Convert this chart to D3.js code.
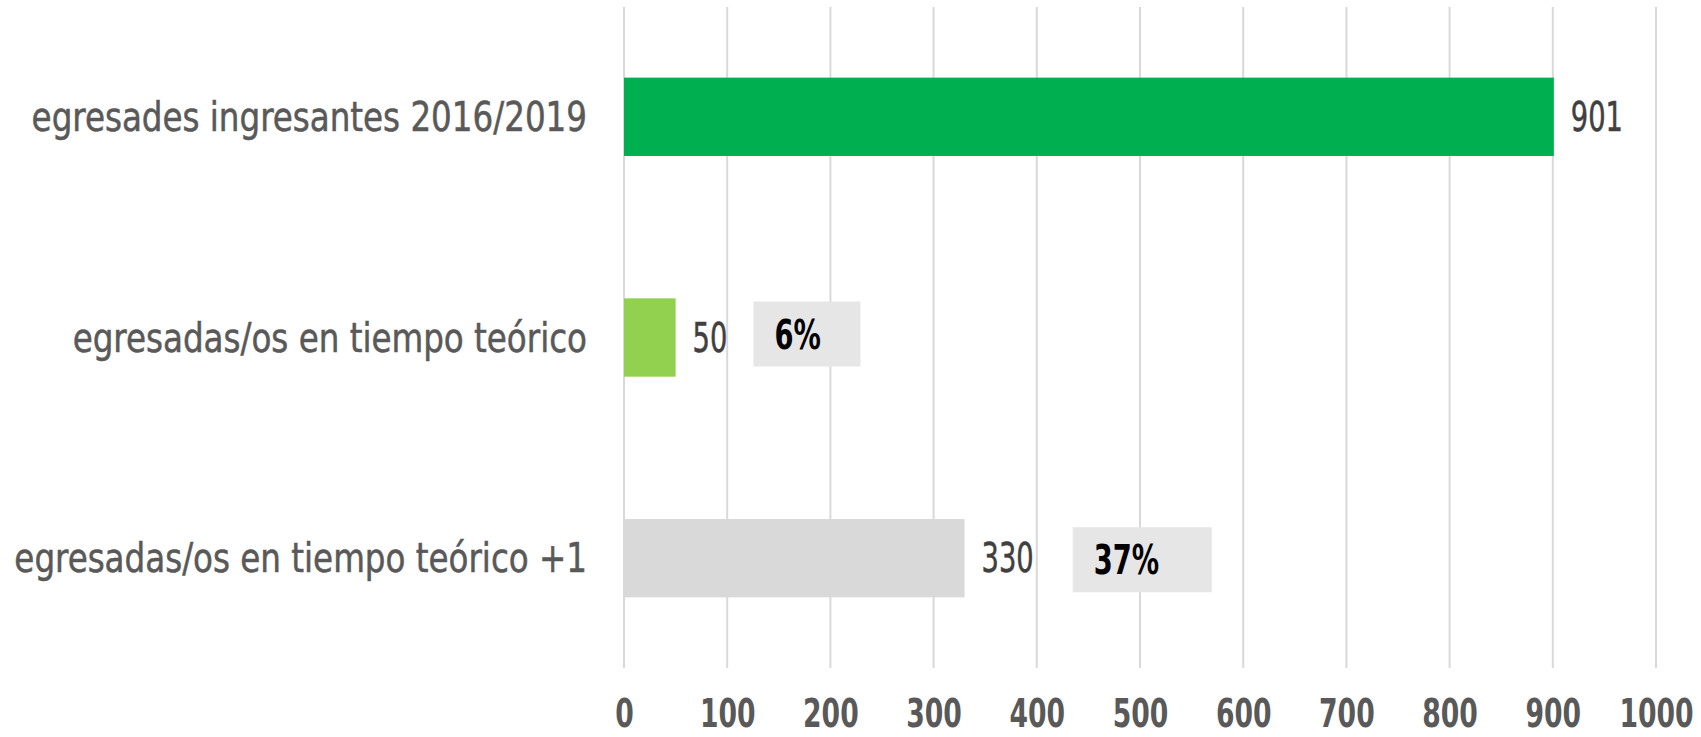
<!DOCTYPE html>
<html>
<head>
<meta charset="utf-8">
<script src="https://cdn.jsdelivr.net/npm/d3@7"></script>
<style>
	body { margin: 0; background: #fff; }
	text { font-family: "DejaVu Sans Condensed", "Liberation Sans Narrow", sans-serif; }
</style>
</head>
<body>
<svg id="chart"></svg>
<script>
// data
const categories = ["egresades ingresantes 2016/2019", "egresadas/os en tiempo teórico", "egresadas/os en tiempo teórico +1"];
const values = [901, 50, 330];
const barColors = ["#00b050", "#92d050", "#d9d9d9"];
const shares = [null, "6%", "37%"];
const xTicks = [0, 100, 200, 300, 400, 500, 600, 700, 800, 900, 1000];

const width = 1701, height = 737;
const margin = {top: 7, right: 45, bottom: 69, left: 624};

// the reference uses a narrow DIN-like face, so squeeze the glyphs horizontally
const catSqueeze = 0.905, numSqueeze = 0.76;

let svg = d3.select("#chart").attr("width", width).attr("height", height);

let x = d3.scaleLinear().domain([0, 1000]).range([margin.left, width - margin.right]);
let y = d3.scaleBand().domain(categories).range([margin.top, height - margin.bottom]).paddingInner(0.645).paddingOuter(0.32);
let mid = c => y(c) + y.bandwidth() / 2;

// gridlines
svg.selectAll(".grid").data(xTicks).enter().append("line")
	.attr("class", "grid")
	.attr("x1", d => x(d)).attr("x2", d => x(d))
	.attr("y1", margin.top).attr("y2", height - margin.bottom)
	.attr("stroke", "#d9d9d9").attr("stroke-width", 2);

// x axis labels
let axis = svg.append("g").attr("transform", `translate(0,${height - 10})`)
	.call(d3.axisBottom(x).tickValues(xTicks).tickFormat(d3.format("d")).tickSize(0).tickPadding(0));
axis.select(".domain").remove();
axis.selectAll("text")
	.attr("y", 0).attr("dy", 0)
	.attr("transform", `scale(${numSqueeze},1)`)
	.attr("font-size", 39).attr("font-weight", "bold").attr("fill", "#595959")
	.style("font-family", null);

// category labels
svg.selectAll(".cat").data(categories).enter().append("text")
	.attr("class", "cat")
	.attr("transform", d => `translate(${margin.left - 37},${mid(d)}) scale(${catSqueeze},1)`)
	.attr("dy", "0.35em")
	.attr("text-anchor", "end")
	.attr("font-size", 40).attr("fill", "#595959")
	.attr("stroke", "#595959").attr("stroke-width", 0.5)
	.text(d => d);

// bars
svg.selectAll(".bar").data(values).enter().append("rect")
	.attr("class", "bar")
	.attr("x", x(0))
	.attr("y", (d, i) => y(categories[i]))
	.attr("width", d => x(d) - x(0))
	.attr("height", y.bandwidth())
	.attr("fill", (d, i) => barColors[i]);

// value labels
let labels = svg.selectAll(".val").data(values).enter().append("text")
	.attr("class", "val")
	.attr("transform", (d, i) => `translate(${x(d) + 17},${mid(categories[i])}) scale(${numSqueeze},1)`)
	.attr("dy", "0.35em")
	.attr("font-size", 40).attr("fill", "#404040")
	.attr("stroke", "#404040").attr("stroke-width", 0.5)
	.text(d => d);

// share boxes next to the value labels
labels.each(function(d, i) {
	if (!shares[i]) return;
	let right = x(d) + 17 + this.getBBox().width * numSqueeze;
	let cy = mid(categories[i]);
	let bx = right + (i == 1 ? 26 : 39);
	let bw = i == 1 ? 107 : 139;
	let g = svg.append("g");
	g.append("rect")
		.attr("x", bx).attr("y", cy - 33 + (i == 1 ? -3 : 2))
		.attr("width", bw).attr("height", 65)
		.attr("fill", "#e7e6e6");
	g.append("text")
		.attr("transform", `translate(${bx + 21},${cy + (i == 1 ? -3 : 2)}) scale(${numSqueeze},1)`)
		.attr("dy", "0.35em")
		.attr("font-size", 40).attr("font-weight", "bold").attr("fill", "#000")
		.text(shares[i]);
});
</script>
</body>
</html>
